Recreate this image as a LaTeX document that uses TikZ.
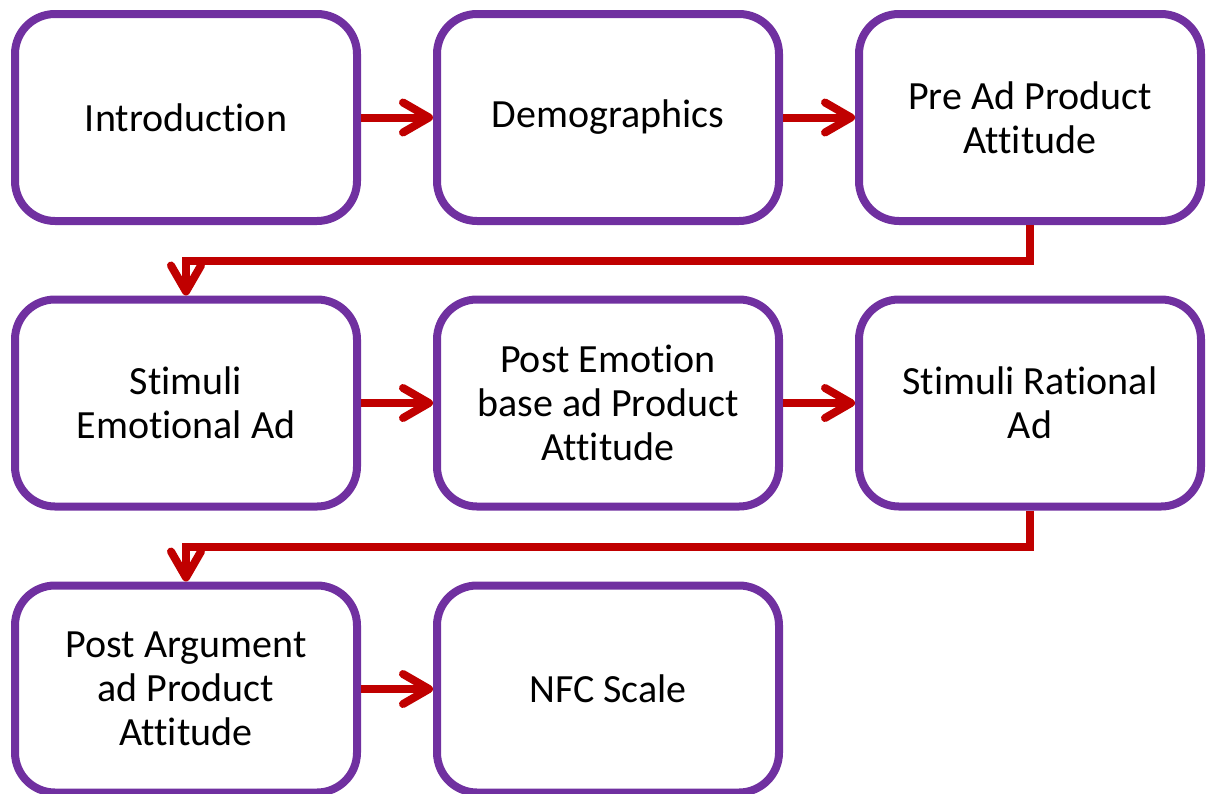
\documentclass[tikz,border=0pt]{standalone}
\usepackage{fontspec}
\setmainfont{Carlito}[Ligatures=CommonOff]
\usetikzlibrary{arrows.meta}
\definecolor{boxpurple}{HTML}{7030A0}
\definecolor{arrowred}{HTML}{C00000}
\begin{document}
\begin{tikzpicture}[x=1pt,y=-1pt,
  stepbox/.style={draw=boxpurple, line width=8pt, rounded corners=40pt, fill=white,
    minimum width=342pt, minimum height=207pt, inner sep=0pt, align=center,
    font=\fontsize{40}{44}\selectfont},
  flow/.style={draw=arrowred, line width=8pt,
    -{Straight Barb[length=26pt,width=30pt,round]}}]
\useasboundingbox (0,0) rectangle (1207,793);
\node[stepbox] (b1) at (186,117.5) {Introduction};
\node[stepbox] (b2) at (608,117.5) {Demographics};
\node[stepbox] (b3) at (1030,117.5) {Pre Ad Product\\Attitude};
\node[stepbox] (b4) at (186,403) {Stimuli\\Emotional Ad};
\node[stepbox] (b5) at (608,403) {Post Emotion\\base ad Product\\Attitude};
\node[stepbox] (b6) at (1030,403) {Stimuli Rational\\Ad};
\node[stepbox] (b7) at (186,689) {Post Argument\\ad Product\\Attitude};
\node[stepbox] (b8) at (608,689) {NFC Scale};
\draw[flow] (b1) -- (b2);
\draw[flow] (b2) -- (b3);
\draw[flow] (b4) -- (b5);
\draw[flow] (b5) -- (b6);
\draw[flow] (b7) -- (b8);
\draw[flow] (b3.south) -- ++(0,36) -| (b4.north);
\draw[flow] (b6.south) -- ++(0,36) -| (b7.north);
\end{tikzpicture}
\end{document}
